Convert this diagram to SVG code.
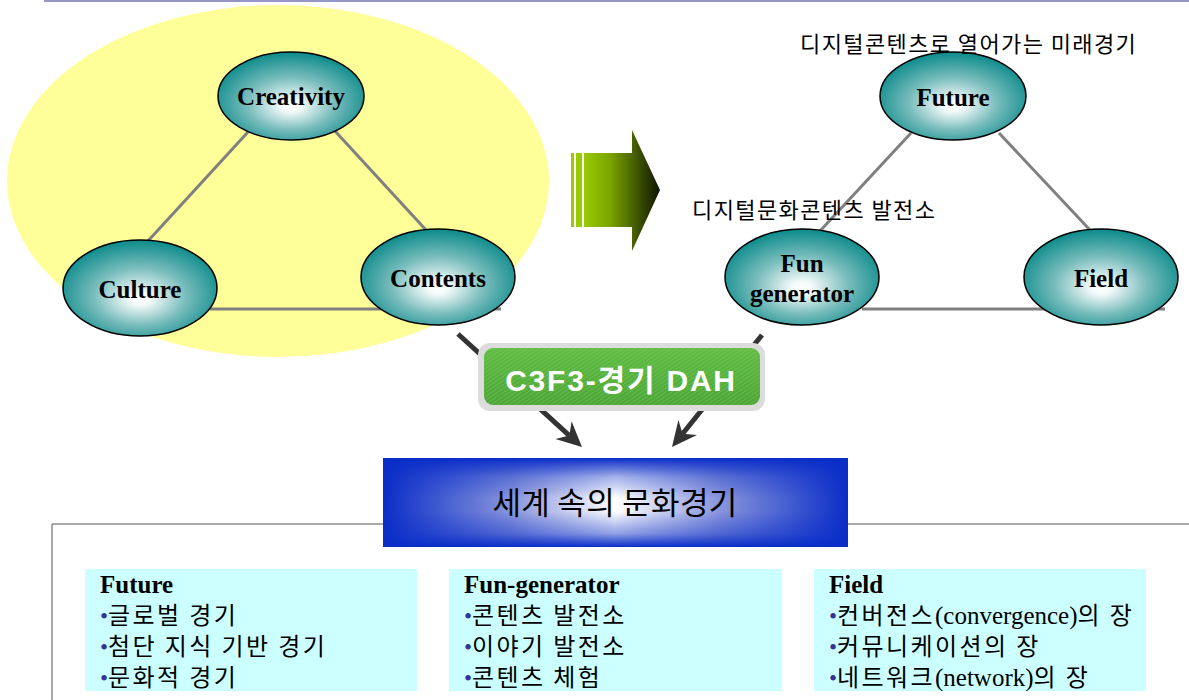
<svg xmlns="http://www.w3.org/2000/svg" width="1189" height="700" viewBox="0 0 1189 700">
<defs>
<radialGradient id="nodeGrad" cx="50%" cy="56%" r="55%" fx="50%" fy="62%">
<stop offset="0" stop-color="#ffffff"/>
<stop offset="0.12" stop-color="#f4fafa"/>
<stop offset="0.55" stop-color="#78bcbc"/>
<stop offset="1" stop-color="#0f8c8c"/>
</radialGradient>
<linearGradient id="arrowGrad" x1="0" y1="0" x2="1" y2="0">
<stop offset="0" stop-color="#99cc00"/>
<stop offset="0.35" stop-color="#7aa300"/>
<stop offset="1" stop-color="#0d1400"/>
</linearGradient>
<linearGradient id="blueH" x1="0" y1="0" x2="1" y2="0">
<stop offset="0" stop-color="#0a2dc8"/>
<stop offset="0.28" stop-color="#8a96dc"/>
<stop offset="0.5" stop-color="#ffffff"/>
<stop offset="0.72" stop-color="#8a96dc"/>
<stop offset="1" stop-color="#0a2dc8"/>
</linearGradient>
<linearGradient id="blueV" x1="0" y1="0" x2="0" y2="1">
<stop offset="0" stop-color="#0a2dc8" stop-opacity="1"/>
<stop offset="0.22" stop-color="#0a2dc8" stop-opacity="0.35"/>
<stop offset="0.45" stop-color="#0a2dc8" stop-opacity="0"/>
<stop offset="0.6" stop-color="#0a2dc8" stop-opacity="0"/>
<stop offset="0.85" stop-color="#0a2dc8" stop-opacity="0.45"/>
<stop offset="1" stop-color="#0a2dc8" stop-opacity="1"/>
</linearGradient>
<linearGradient id="greenGrad" x1="0" y1="0" x2="0" y2="1">
<stop offset="0" stop-color="#62bd46"/>
<stop offset="1" stop-color="#4da637"/>
</linearGradient>
<pattern id="hatch" width="6" height="4" patternUnits="userSpaceOnUse">
<rect width="6" height="4" fill="none"/>
<path d="M0,4 L6,0" stroke="#7fd066" stroke-width="0.8" opacity="0.5"/>
</pattern>
</defs>
<style>
.node{fill:url(#nodeGrad);stroke:#000;stroke-width:1.5}
.ntext{font-family:"Liberation Serif","Times New Roman",serif;font-weight:bold;font-size:25px;fill:#000;text-anchor:middle}
.tri{stroke:#808080;stroke-width:3;fill:none}
.conn{stroke:#333333;stroke-width:5;fill:none}
.head{fill:#333333}
.kor{font-family:"Noto Sans CJK KR","Noto Sans",sans-serif;fill:#000}
.cap{font-size:22px;letter-spacing:1.4px}
.box{fill:#ccffff}
.hd{font-family:"Liberation Serif","Times New Roman",serif;font-weight:bold;font-size:25px;fill:#000}
.item{font-family:"Noto Sans CJK KR",sans-serif;font-size:24px;letter-spacing:2.4px;fill:#000}
.bul{font-family:"Liberation Serif",serif;font-size:23px;fill:#333399;letter-spacing:0}
.lat{font-family:"Liberation Serif","Times New Roman",serif;font-size:25px;letter-spacing:0}
</style>
<rect width="1189" height="700" fill="#ffffff"/>
<line x1="44" y1="1" x2="1189" y2="1" stroke="#7575b5" stroke-width="1.5"/>
<ellipse cx="278" cy="181" rx="271" ry="176" fill="#ffff99"/>
<g id="bigArrow">
<rect x="571" y="153" width="3" height="74" fill="#99cc00"/>
<rect x="576" y="153" width="6" height="74" fill="#99cc00"/>
<path d="M584,153 L632,153 L632,130 L660,190 L632,251 L632,227 L584,227 Z" fill="url(#arrowGrad)"/>
</g>
<g id="connectors">
<line class="tri" x1="248" y1="132" x2="148" y2="241"/>
<line class="tri" x1="335" y1="131" x2="426" y2="230"/>
<line class="tri" x1="210" y1="309" x2="501" y2="309"/>
<line class="tri" x1="911" y1="133" x2="820" y2="231"/>
<line class="tri" x1="999" y1="133" x2="1090" y2="230"/>
<line class="tri" x1="862" y1="309" x2="1165" y2="309"/>
<line class="conn" x1="458" y1="334" x2="569.4" y2="435.6"/>
<polygon class="head" points="582,447 555.4,439.1 569.4,435.6 571.6,421.3"/>
<line class="conn" x1="762" y1="335" x2="682.6" y2="433.8"/>
<polygon class="head" points="672,447 678.4,420 682.6,433.8 697,435"/>
</g>
<g id="creativity">
<ellipse class="node" cx="291" cy="96" rx="73" ry="44"/>
<text class="ntext" x="291" y="105">Creativity</text>
</g>
<g id="culture">
<ellipse class="node" cx="140" cy="288" rx="77" ry="48"/>
<text class="ntext" x="140" y="298">Culture</text>
</g>
<g id="contents">
<ellipse class="node" cx="438" cy="277" rx="77" ry="48"/>
<text class="ntext" x="438" y="287">Contents</text>
</g>
<g id="future">
<ellipse class="node" cx="953" cy="96" rx="73" ry="44"/>
<text class="ntext" x="953" y="106">Future</text>
</g>
<g id="fungenerator">
<ellipse class="node" cx="802" cy="277" rx="77" ry="48"/>
<text class="ntext" x="802" y="272">Fun</text>
<text class="ntext" x="802" y="302">generator</text>
</g>
<g id="field">
<ellipse class="node" cx="1101" cy="277" rx="77" ry="48"/>
<text class="ntext" x="1101" y="287">Field</text>
</g>
<g id="captions">
<text class="kor cap" x="800" y="52">디지털콘텐츠로 열어가는 미래경기</text>
<text class="kor cap" x="692" y="218">디지털문화콘텐츠 발전소</text>
</g>
<g id="c3f3">
<rect x="478" y="343" width="287" height="68" rx="12" fill="#dcdcdc"/>
<rect x="484" y="348" width="276" height="57" rx="9" fill="url(#greenGrad)"/>
<rect x="484" y="348" width="276" height="57" rx="9" fill="url(#hatch)"/>
<text x="621" y="391" text-anchor="middle" font-family="Liberation Sans,Noto Sans CJK KR,sans-serif" font-weight="bold" font-size="30" letter-spacing="1.8" fill="#ffffff">C3F3-경기 DAH</text>
</g>
<g id="panel">
<line x1="52" y1="524" x2="1189" y2="524" stroke="#8c8c8c" stroke-width="1.5"/>
<line x1="52" y1="524" x2="52" y2="700" stroke="#8c8c8c" stroke-width="1.5"/>
</g>
<g id="world">
<rect x="383" y="458" width="465" height="89" fill="url(#blueH)"/>
<rect x="383" y="458" width="465" height="89" fill="url(#blueV)"/>
<text class="kor" x="615" y="514" text-anchor="middle" font-size="31" letter-spacing="0.3">세계 속의 문화경기</text>
</g>
<g id="futureBox">
<rect class="box" x="85" y="569" width="332" height="122"/>
<text class="hd" x="100" y="593">Future</text>
<text class="item" x="100" y="624"><tspan class="bul">•</tspan>글로벌 경기</text>
<text class="item" x="100" y="655"><tspan class="bul">•</tspan>첨단 지식 기반 경기</text>
<text class="item" x="100" y="686"><tspan class="bul">•</tspan>문화적 경기</text>
</g>
<g id="funBox">
<rect class="box" x="449" y="569" width="333" height="122"/>
<text class="hd" x="464" y="593">Fun-generator</text>
<text class="item" x="464" y="624"><tspan class="bul">•</tspan>콘텐츠 발전소</text>
<text class="item" x="464" y="655"><tspan class="bul">•</tspan>이야기 발전소</text>
<text class="item" x="464" y="686"><tspan class="bul">•</tspan>콘텐츠 체험</text>
</g>
<g id="fieldBox">
<rect class="box" x="814" y="569" width="332" height="122"/>
<text class="hd" x="829" y="593">Field</text>
<text class="item" x="829" y="624"><tspan class="bul">•</tspan>컨버전스<tspan class="lat">(convergence)</tspan>의 장</text>
<text class="item" x="829" y="655"><tspan class="bul">•</tspan>커뮤니케이션의 장</text>
<text class="item" x="829" y="686"><tspan class="bul">•</tspan>네트워크<tspan class="lat">(network)</tspan>의 장</text>
</g>
</svg>
